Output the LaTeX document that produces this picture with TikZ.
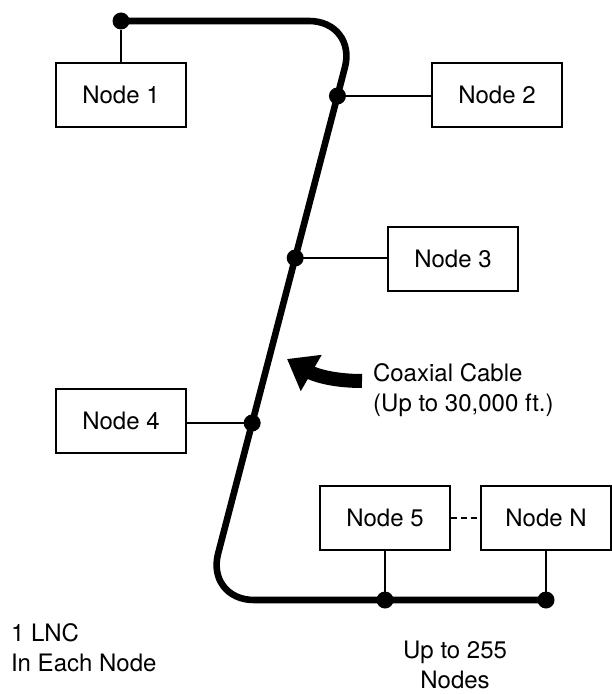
\documentclass[tikz,border=0pt]{standalone}
\usepackage{fontspec}
\setmainfont{TeX Gyre Heros}
\usetikzlibrary{arrows.meta,calc}

\begin{document}
\begin{tikzpicture}[x=0.5pt, y=-0.5pt,
        every node/.style={font=\fontsize{12}{15}\selectfont},
        box/.style={draw, line width=0.8pt, minimum width=65pt, minimum height=32pt},
        tap/.style={circle, fill, inner sep=0pt, minimum size=8.5pt},
        cable/.style={line width=3.3pt, rounded corners=24pt}]
        \useasboundingbox (0,0) rectangle (611,694);
        % stations
        \node[box] (n1) at (121,95) {Node 1};
        \node[box] (n2) at (497,95) {Node 2};
        \node[box] (n3) at (453,259) {Node 3};
        \node[box] (n4) at (121,421) {Node 4};
        \node[box] (n5) at (385,518) {Node 5};
        \node[box] (nN) at (546,518) {Node N};
        % the cable
        \coordinate (top) at (357,21);
        \coordinate (bot) at (206,600);
        \node[tap] (t1) at (121,21) {};
        \node[tap] (t2) at ($(top)!0.1295!(bot)$) {};
        \node[tap] (t3) at ($(top)!0.4093!(bot)$) {};
        \node[tap] (t4) at ($(top)!0.6943!(bot)$) {};
        \node[tap] (t5) at (n5 |- bot) {};
        \node[tap] (tN) at (nN |- bot) {};
        \draw[cable] (t1.center) -- (top) -- (bot) -- (tN.center);
        % drops
        \draw[line width=0.8pt] (t1) -- (n1);
        \draw[line width=0.8pt] (t2.center) -- (t2.center -| n2.west);
        \draw[line width=0.8pt] (t3.center) -- (t3.center -| n3.west);
        \draw[line width=0.8pt] (t4.center) -- (t4.center -| n4.east);
        \draw[line width=0.8pt] (t5.center) -- (n5);
        \draw[line width=0.8pt] (tN.center) -- (nN);
        \draw[line width=1.2pt, dash pattern=on 3pt off 2pt] (n5) -- (nN);
        % labels
        \draw[line width=7pt, -{Triangle[length=14pt,width=20pt]}] (362,381) to[out=180, in=-30] (287,359);
        \node[anchor=west, align=left] (coax) at (366,390) {Coaxial Cable\\(Up to 30,000 ft.)};
        \node[anchor=west, align=left] (lnc) at (4,648) {1 LNC\\In Each Node};
        \node[align=center] (upto) at (455,665) {Up to 255\\Nodes};
\end{tikzpicture}
\end{document}
